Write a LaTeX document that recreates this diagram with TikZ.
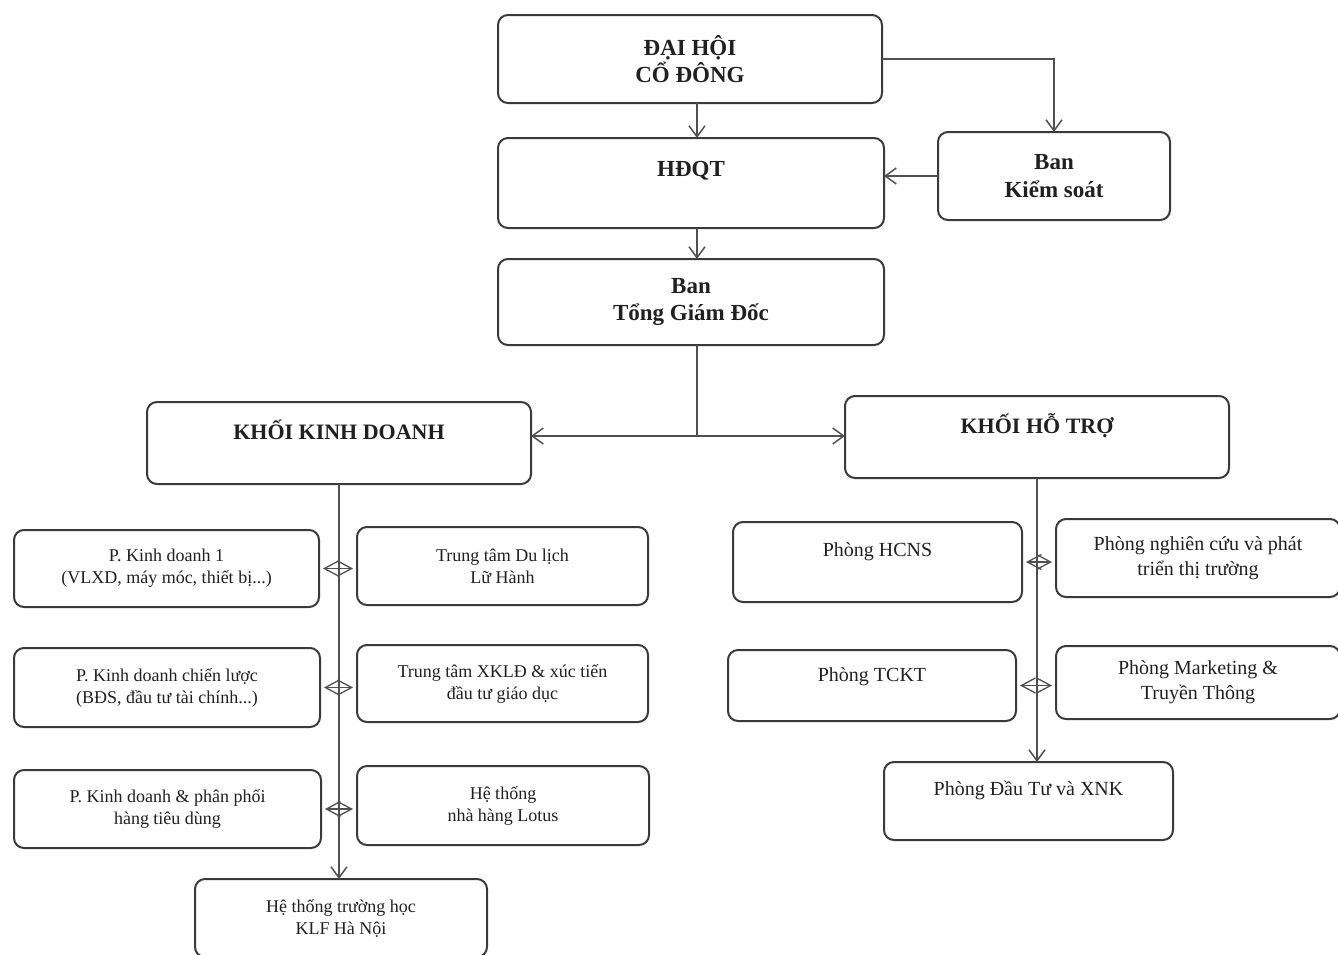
\documentclass[tikz,border=0pt]{standalone}
\usepackage{fontspec}
\setmainfont{Liberation Serif}
\usetikzlibrary{arrows.meta,calc}
\definecolor{boxc}{HTML}{3A3A3A}
\definecolor{linec}{HTML}{505050}
\definecolor{txt}{HTML}{202020}
\begin{document}
\begin{tikzpicture}[x=1pt,y=-1pt,
  box/.style={draw=boxc, line width=2pt, rounded corners=10pt, align=center, inner sep=0pt, outer sep=0pt, text=txt},
  big/.style={box, font=\fontsize{23}{27.5}\selectfont\bfseries},
  sm/.style={box, font=\fontsize{18}{22}\selectfont},
  rt/.style={box, font=\fontsize{20}{25}\selectfont},
  arr/.style={draw=linec, line width=1.5pt, -{Straight Barb[length=11pt,width=16pt]}},
  darr/.style={draw=linec, line width=1.3pt, shorten <=4pt, shorten >=4pt, {Straight Barb[length=14pt,width=15pt]}-{Straight Barb[length=14pt,width=15pt]}},
  plain/.style={draw=linec, line width=1.5pt}]
\useasboundingbox (0,0) rectangle (1338,954);
% top
\node[big, minimum width=384, minimum height=88] (dhcd) at (690,59) {ĐẠI HỘI\\CỔ ĐÔNG};
\node[big, minimum width=386, minimum height=90] (hdqt) at (691,183) {HĐQT\\\mbox{}};
\node[big, minimum width=232, minimum height=88] (bks) at (1054,176) {Ban\\Kiểm soát};
\node[big, minimum width=386, minimum height=86] (btgd) at (691,302) {Ban\\Tổng Giám Đốc};
\node[box, font=\fontsize{22}{26.4}\selectfont\bfseries, minimum width=384, minimum height=82] (kkd) at (339,443) {KHỐI KINH DOANH\\\mbox{}};
\node[box, font=\fontsize{22}{26.4}\selectfont\bfseries, minimum width=384, minimum height=82] (kht) at (1037,437) {KHỐI HỖ TRỢ\\\mbox{}};
% left column
\node[sm, minimum width=305, minimum height=77] (kd1) at (166.5,568.5) {P. Kinh doanh 1\\(VLXD, máy móc, thiết bị...)};
\node[sm, minimum width=291, minimum height=78] (dl) at (502.5,566) {Trung tâm Du lịch\\Lữ Hành};
\node[sm, minimum width=306, minimum height=79] (kdcl) at (167,687.5) {P. Kinh doanh chiến lược\\(BĐS, đầu tư tài chính...)};
\node[sm, minimum width=291, minimum height=77] (xkld) at (502.5,683.5) {Trung tâm XKLĐ \& xúc tiến\\đầu tư giáo dục};
\node[sm, minimum width=307, minimum height=78] (kdpp) at (167.5,809) {P. Kinh doanh \& phân phối\\hàng tiêu dùng};
\node[sm, minimum width=292, minimum height=79] (lotus) at (503,805.5) {Hệ thống\\nhà hàng Lotus};
\node[sm, minimum width=292, minimum height=78] (th) at (341,918) {Hệ thống trường học\\KLF Hà Nội};
% right column
\node[rt, minimum width=289, minimum height=80] (hcns) at (877.5,562) {Phòng HCNS\\\mbox{}};
\node[rt, minimum width=284, minimum height=78] (nc) at (1198,558) {Phòng nghiên cứu và phát\\triển thị trường};
\node[rt, minimum width=288, minimum height=71] (tckt) at (872,685.5) {Phòng TCKT\\[-4pt]\mbox{}};
\node[rt, minimum width=284, minimum height=73] (mkt) at (1198,682.5) {Phòng Marketing \&\\Truyền Thông};
\node[rt, minimum width=289, minimum height=78] (dt) at (1028.5,801) {Phòng Đầu Tư và XNK\\\mbox{}};
% connectors top
\coordinate (ax) at (697,0);
\draw[arr] (dhcd.south -| ax) -- (hdqt.north -| ax);
\draw[arr] (dhcd.east) -| (bks.north);
\draw[arr] (bks.west) -- (bks.west -| hdqt.east);
\draw[arr] (hdqt.south -| ax) -- (btgd.north -| ax);
\coordinate (jn) at (697,436);
\draw[plain] (btgd.south -| ax) -- (jn);
\draw[arr] (jn) -- (jn -| kkd.east);
\draw[arr] (jn) -- (jn -| kht.west);
% left trunk
\draw[arr] (kkd.south) -- (kkd.south |- th.north);
\draw[darr] (kd1.east) -- (kd1.east -| dl.west);
\draw[darr] (kdcl.east) -- (kdcl.east -| xkld.west);
\draw[darr] (kdpp.east) -- (kdpp.east -| lotus.west);
% right trunk
\draw[arr] (kht.south) -- (kht.south |- dt.north);
\draw[darr] (hcns.east) -- (hcns.east -| nc.west);
\draw[darr] (tckt.east) -- (tckt.east -| mkt.west);
\end{tikzpicture}
\end{document}
